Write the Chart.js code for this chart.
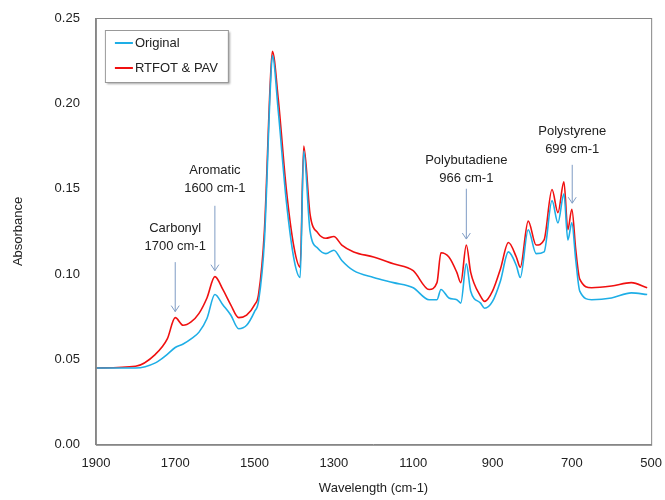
<!DOCTYPE html>
<html><head><script src="https://cdn.jsdelivr.net/npm/chart.js@4"></script>
<style>body{margin:0;background:#fff}#w{width:665px;height:500px}</style></head>
<body><div id="w"><canvas id="c"></canvas></div>
<script>
const wavenumbers = [1900,1800,1750,1720,1700,1680,1660,1640,1620,1600,1580,1560,1540,1520,1500,1490,1475,1460,1455,1440,1420,1400,1385,1376,1360,1340,1320,1300,1280,1250,1200,1150,1100,1060,1040,1030,1010,990,980,966,955,930,920,900,880,860,840,830,810,790,770,750,735,720,710,700,690,680,650,600,550,510];
const rtfot = [0.045,0.046,0.053,0.062,0.0745,0.070,0.072,0.077,0.086,0.0985,0.091,0.082,0.0745,0.076,0.082,0.088,0.126,0.214,0.2305,0.202,0.150,0.115,0.104,0.175,0.135,0.124,0.121,0.122,0.117,0.113,0.110,0.106,0.102,0.091,0.095,0.1125,0.110,0.101,0.095,0.117,0.101,0.087,0.084,0.090,0.103,0.1185,0.110,0.104,0.131,0.117,0.120,0.1495,0.136,0.154,0.126,0.138,0.114,0.097,0.092,0.093,0.095,0.092];
const original = [0.045,0.045,0.048,0.053,0.057,0.059,0.062,0.066,0.074,0.088,0.082,0.076,0.068,0.070,0.078,0.084,0.120,0.210,0.228,0.195,0.143,0.108,0.098,0.172,0.125,0.115,0.112,0.114,0.108,0.102,0.098,0.095,0.092,0.085,0.085,0.091,0.086,0.085,0.083,0.106,0.090,0.083,0.080,0.084,0.096,0.113,0.105,0.098,0.126,0.112,0.113,0.143,0.130,0.147,0.120,0.130,0.108,0.090,0.085,0.086,0.089,0.088];
const xTicks = [1900,1700,1500,1300,1100,900,700,500];
const notes = [
 {x:1700, y:0.0745, l1:'Carbonyl', l2:'1700 cm-1', ty:0.114, top:0.107},
 {x:1600, y:0.0985, l1:'Aromatic', l2:'1600 cm-1', ty:0.148, top:0.140},
 {x:966, y:0.117, l1:'Polybutadiene', l2:'966 cm-1', ty:0.154, top:0.150},
 {x:699, y:0.138, l1:'Polystyrene', l2:'699 cm-1', ty:0.171, top:0.164}
];
const F = "'Liberation Sans', sans-serif";
const deco = {id:'deco', afterDatasetsDraw(ch){
  const {ctx, chartArea:a, scales:{x,y}} = ch;
  ctx.save();
  ctx.strokeStyle='#868686'; ctx.lineWidth=1;
  ctx.strokeRect(a.left+0.5,a.top+0.5,a.right-a.left,a.bottom-a.top);
  ctx.font='13px '+F; ctx.fillStyle='#222'; ctx.textAlign='center';
  notes.forEach(n=>{
    const px=x.getPixelForValue(n.x);
    ctx.fillText(n.l1, px, y.getPixelForValue(n.ty)-18);
    ctx.fillText(n.l2, px, y.getPixelForValue(n.ty));
    const y0=y.getPixelForValue(n.top), y1=y.getPixelForValue(n.y)-6;
    ctx.strokeStyle='#7f9cc4'; ctx.beginPath();
    ctx.moveTo(px,y0); ctx.lineTo(px,y1);
    ctx.moveTo(px-4,y1-6); ctx.lineTo(px,y1); ctx.lineTo(px+4,y1-6); ctx.stroke();
  });
  const lx=a.left+9, ly=a.top+12;
  ctx.shadowColor='rgba(0,0,0,0.35)'; ctx.shadowOffsetX=2; ctx.shadowOffsetY=2; ctx.shadowBlur=2;
  ctx.fillStyle='#fff'; ctx.fillRect(lx,ly,123,52);
  ctx.shadowColor='transparent';
  ctx.strokeStyle='#999'; ctx.strokeRect(lx+0.5,ly+0.5,123,52);
  ctx.lineWidth=2; ctx.textAlign='left'; ctx.textBaseline='middle'; ctx.font='13px '+F; ctx.fillStyle='#222';
  [['#1eaee6','Original',13],['#f01010','RTFOT & PAV',38]].forEach(([c,t,o])=>{
    ctx.strokeStyle=c; ctx.beginPath(); ctx.moveTo(lx+10,ly+o); ctx.lineTo(lx+28,ly+o); ctx.stroke();
    ctx.fillText(t,lx+30,ly+o);
  });
  ctx.restore();
}};
new Chart(document.getElementById('c'),{
  type:'line',
  data:{datasets:[
    {label:'Original',data:wavenumbers.map((w,i)=>({x:w,y:original[i]})),borderColor:'#1eaee6',borderWidth:1.6,pointRadius:0,cubicInterpolationMode:'monotone'},
    {label:'RTFOT & PAV',data:wavenumbers.map((w,i)=>({x:w,y:rtfot[i]})),borderColor:'#f01010',borderWidth:1.6,pointRadius:0,cubicInterpolationMode:'monotone'}
  ]},
  options:{responsive:true,maintainAspectRatio:false,animation:false,
    layout:{padding:{top:18,right:3,left:7,bottom:0}},
    plugins:{legend:{display:false},tooltip:{enabled:false}},
    scales:{
      x:{type:'linear',reverse:true,min:500,max:1900,grid:{display:false},border:{color:'#868686'},
        afterBuildTicks(s){s.ticks=xTicks.map(v=>({value:v}));},
        ticks:{color:'#222',font:{family:F,size:13},maxRotation:0,callback:v=>String(v)},
        title:{display:true,text:'Wavelength (cm-1)',color:'#222',font:{family:F,size:13},padding:{top:6}}},
      y:{min:0,max:0.25,grid:{display:false},border:{color:'#868686'},
        ticks:{stepSize:0.05,color:'#222',font:{family:F,size:13},callback:v=>v.toFixed(2),padding:8},
        title:{display:true,text:'Absorbance',color:'#222',font:{family:F,size:13},padding:{bottom:20}}}
    }},
  plugins:[deco]
});
</script></body></html>
